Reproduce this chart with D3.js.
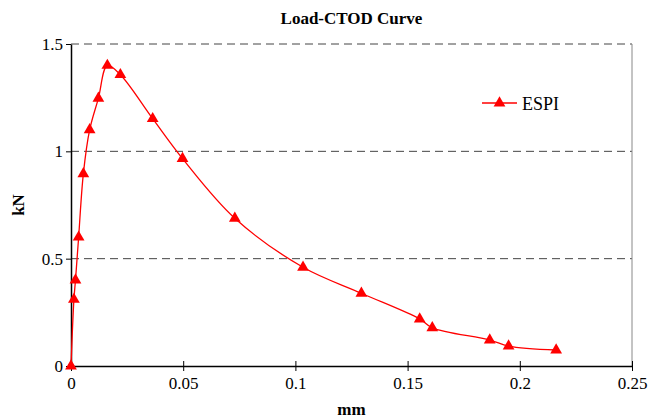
<!DOCTYPE html>
<html>
<head>
<meta charset="utf-8">
<script src="https://cdn.jsdelivr.net/npm/d3@7"></script>
<style>
  body { margin: 0; background: #fff; }
  svg text { font-family: "Liberation Serif", "Times New Roman", serif !important; }
</style>
</head>
<body>
<div class="chart"></div>
<script>
// Load-CTOD data
var ctod = [0, 0.0013, 0.002, 0.0034, 0.0055, 0.0083, 0.0122, 0.0162, 0.022, 0.0364, 0.0497, 0.073, 0.1034, 0.1294, 0.1554, 0.161, 0.1866, 0.195, 0.2162];
var load = [0, 0.31, 0.40, 0.60, 0.895, 1.10, 1.247, 1.40, 1.357, 1.152, 0.966, 0.688, 0.46, 0.339, 0.219, 0.178, 0.121, 0.093, 0.0745];
var xTicks = [0, 0.05, 0.1, 0.15, 0.2, 0.25];
var yTicks = [0, 0.5, 1, 1.5];
var seriesName = "ESPI";

var width = 649, height = 420;
var margin = {top: 44, right: 17, bottom: 54, left: 71};

function drawGraph() {
    var data = ctod.map(function(d, i) { return {x: d, y: load[i]}; });

    const svg = d3.select('.chart')
        .append('svg')
        .attr('width', width)
        .attr('height', height);

    var x = d3.scaleLinear().domain([0, 0.25]).range([margin.left, width - margin.right]);
    var y = d3.scaleLinear().domain([0, 1.5]).range([height - margin.bottom, margin.top]);

    // dashed gridlines
    svg.selectAll('.grid')
        .data(yTicks.filter(function(d) { return d > 0; }))
        .enter()
        .append('line')
        .attr('x1', x(0))
        .attr('x2', x(0.25))
        .attr('y1', function(d) { return y(d); })
        .attr('y2', function(d) { return y(d); })
        .attr('stroke', '#444')
        .attr('stroke-width', 1)
        .attr('stroke-dasharray', '8,5');

    // right border
    svg.append('line')
        .attr('x1', x(0.25)).attr('x2', x(0.25))
        .attr('y1', y(1.5)).attr('y2', y(0))
        .attr('stroke', '#888');

    // x axis
    var xAxis = svg.append('g')
        .attr('transform', 'translate(0,' + y(0) + ')')
        .call(d3.axisBottom(x).tickValues(xTicks).tickFormat(d3.format('')).tickSize(5).tickSizeOuter(0));
    xAxis.select('.domain').attr('stroke', '#000').attr('stroke-width', 1.5);
    xAxis.selectAll('.tick line').attr('y1', -5).attr('y2', 5);
    xAxis.selectAll('.tick text').attr('y', 11).style('font-size', '17px');

    // y axis
    var yAxis = svg.append('g')
        .attr('transform', 'translate(' + x(0) + ',0)')
        .call(d3.axisLeft(y).tickValues(yTicks).tickFormat(d3.format('')).tickSize(5).tickSizeOuter(0));
    yAxis.select('.domain').attr('stroke', '#000').attr('stroke-width', 1.5);
    yAxis.selectAll('.tick text').attr('x', -8).style('font-size', '17px');

    // curve
    var line = d3.line()
        .x(function(d) { return x(d.x); })
        .y(function(d) { return y(d.y); })
        .curve(d3.curveCatmullRom.alpha(0.5));

    svg.append('path')
        .datum(data)
        .attr('d', line)
        .attr('fill', 'none')
        .attr('stroke', '#ff0000')
        .attr('stroke-width', 1.3);

    var tri = d3.symbol().type(d3.symbolTriangle).size(60);
    svg.selectAll('.pt')
        .data(data)
        .enter()
        .append('path')
        .attr('d', tri)
        .attr('transform', function(d) { return 'translate(' + x(d.x) + ',' + y(d.y) + ')'; })
        .attr('fill', '#ff0000');

    // legend
    var lg = svg.append('g').attr('transform', 'translate(482,103)');
    lg.append('line').attr('x1', 0).attr('x2', 35).attr('y1', 0).attr('y2', 0)
        .attr('stroke', '#ff0000').attr('stroke-width', 1.3);
    lg.append('path').attr('d', tri).attr('transform', 'translate(17.5,0)').attr('fill', '#ff0000');
    lg.append('text').attr('x', 40).attr('y', 7).text(seriesName).style('font-size', '18px');

    // title and labels
    svg.append('text')
        .attr('x', (x(0) + x(0.25)) / 2).attr('y', 24)
        .attr('text-anchor', 'middle').style('font-weight', 'bold').style('font-size', '17px')
        .text('Load-CTOD Curve');

    svg.append('text')
        .attr('x', (x(0) + x(0.25)) / 2).attr('y', 415)
        .attr('text-anchor', 'middle').style('font-weight', 'bold').style('font-size', '17px')
        .text('mm');

    svg.append('text')
        .attr('transform', 'translate(24,' + y(0.75) + ') rotate(-90)')
        .attr('text-anchor', 'middle').style('font-weight', 'bold').style('font-size', '17px')
        .text('kN');
}

drawGraph();
</script>
</body>
</html>
